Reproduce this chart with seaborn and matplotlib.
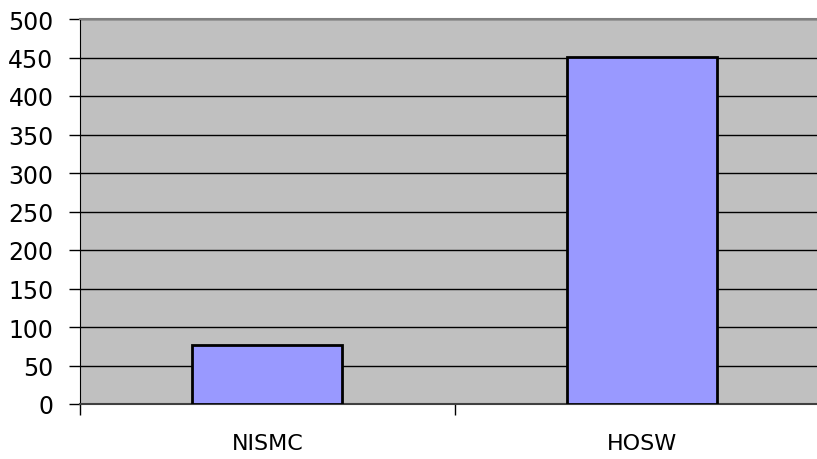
import matplotlib
matplotlib.use("Agg")
import matplotlib.pyplot as plt
import seaborn as sns
import pandas as pd

categories = ["NISMC", "HOSW"]
values = [77, 451]
y_ticks = [0, 50, 100, 150, 200, 250, 300, 350, 400, 450, 500]

sns.set_style("white")
plt.rcParams["font.family"] = "DejaVu Sans"

df = pd.DataFrame({"category": categories, "value": values})

fig = plt.figure(figsize=(8.17, 4.6), dpi=100)
# plot area runs past the right edge of the picture, as in the reference
ax = fig.add_axes([80 / 817, 55 / 460, 749 / 817, 385 / 460])
ax.set_facecolor("#C0C0C0")

sns.barplot(data=df, x="category", y="value", color="#9999FF", saturation=1,
            width=0.4, edgecolor="black", linewidth=2, ax=ax, zorder=3)

ax.set_xlim(-0.5, 1.5)
ax.set_ylim(0, 500)
ax.set_yticks(y_ticks)
ax.yaxis.grid(True, color="black", linewidth=1)
ax.set_axisbelow(True)

ax.set_xlabel("")
ax.set_ylabel("")
ax.tick_params(axis="y", length=8, width=1, color="black", pad=11,
               labelsize=17, labelcolor="black", left=True)
ax.tick_params(axis="x", which="major", length=0, pad=21, labelsize=16, labelcolor="black")
ax.set_xticks([-0.5, 0.5, 1.5], minor=True)
ax.tick_params(axis="x", which="minor", length=8, width=1, color="black", bottom=True)

ax.spines["left"].set_color("black")
ax.spines["top"].set_color("#808080")
ax.spines["top"].set_linewidth(1.5)
ax.spines["bottom"].set_color("#404040")
ax.spines["bottom"].set_linewidth(1.5)
ax.spines["right"].set_visible(False)

plt.savefig("out.png", dpi=100)
plt.close()
